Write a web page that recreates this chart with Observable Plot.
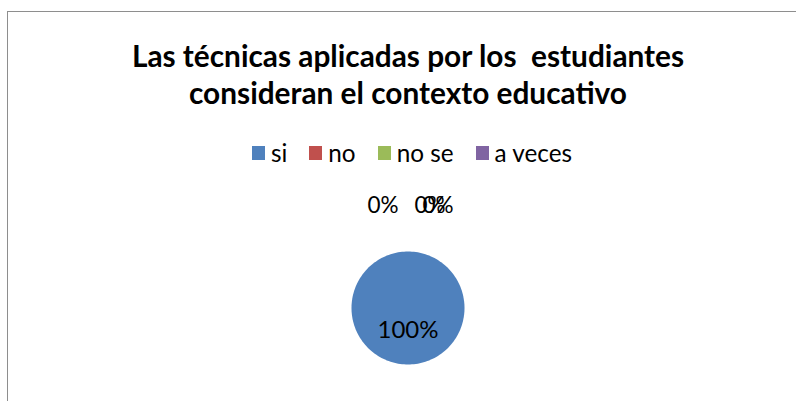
<!DOCTYPE html>
<html>
<head>
<meta charset="utf-8">
<script src="https://cdn.jsdelivr.net/npm/d3@7"></script>
<script src="https://cdn.jsdelivr.net/npm/@observablehq/plot@0.6"></script>
<style>
  html, body { margin: 0; padding: 0; background: #fff; }
  body { width: 796px; height: 401px; overflow: hidden; position: relative; font-family: Lato, "Open Sans", sans-serif; }
  #frame { position: absolute; left: 7px; top: 11px; width: 900px; height: 500px; border: 1.5px solid #8e8e8e; }
  #title { position: absolute; left: 0; width: 816px; top: 37px; text-align: center; font-weight: bold; font-size: 29.8px; line-height: 37px; color: #000; white-space: pre; }
  #legend { position: absolute; left: 0; width: 824px; top: 139px; display: flex; justify-content: center; font-size: 24.3px; line-height: 28px; color: #000; }
  .item { display: flex; align-items: center; margin: 0 11px; }
  .sw { width: 13px; height: 14px; margin-right: 6px; }
  #chart { position: absolute; left: 0; top: 170px; }
</style>
</head>
<body>
<div id="frame"></div>
<div id="title"></div>
<div id="legend"></div>
<div id="chart"></div>
<script>
const titleLines = ["Las técnicas aplicadas por los  estudiantes", "consideran el contexto educativo"];
const categories = ["si", "no", "no se", "a veces"];
const values = [100, 0, 0, 0];
const colors = ["#4F81BD", "#C0504D", "#9BBB59", "#8064A2"];
const labelNudge = [0, -25, 22, 30]; // px offsets Excel used to avoid overlap

document.getElementById("title").textContent = titleLines.join("\n");

const legend = document.getElementById("legend");
categories.forEach((c, i) => {
  const it = document.createElement("div");
  it.className = "item";
  const sw = document.createElement("span");
  sw.className = "sw";
  sw.style.background = colors[i];
  const t = document.createElement("span");
  t.textContent = c;
  it.append(sw, t);
  legend.append(it);
});

const total = d3.sum(values);
const arcs = d3.pie().sort(null).value(d => d.value)(categories.map((c, i) => ({cat: c, value: values[i], i})));

// polygon points for each slice (unit radius)
const pts = [];
arcs.forEach(a => {
  if (a.endAngle - a.startAngle <= 0) return;
  const n = 180;
  const full = (a.endAngle - a.startAngle) >= 2 * Math.PI - 1e-9;
  if (!full) pts.push({cat: a.data.cat, x: 0, y: 0});
  for (let k = 0; k <= n; k++) {
    const t = a.startAngle + (a.endAngle - a.startAngle) * k / n;
    pts.push({cat: a.data.cat, x: Math.sin(t), y: Math.cos(t)});
  }
});

const labels = arcs.map(a => {
  const mid = (a.startAngle + a.endAngle) / 2;
  const inside = a.data.value > 0;
  const rr = inside ? 0.4 : 1.81;
  return {cat: a.data.cat, i: a.data.i, x: rr * Math.sin(mid), y: rr * Math.cos(mid),
          text: Math.round(a.data.value / total * 100) + "%", inside};
});

const cx = 407.5, cy = 307.5 - 170, R = 56.5;
const plot = Plot.plot({
  width: 796,
  height: 231,
  margin: 0,
  x: {domain: [-1, 1], range: [cx - R, cx + R], axis: null},
  y: {domain: [-1, 1], range: [cy + R, cy - R], axis: null},
  color: {domain: categories, range: colors},
  style: {fontFamily: "Lato, 'Open Sans', sans-serif", background: "transparent"},
  marks: [
    Plot.line(pts, {x: "x", y: "y", z: "cat", fill: "cat", stroke: null, curve: "linear-closed"}),
    Plot.text(labels.filter(d => d.inside), {x: "x", y: "y", text: "text", fontSize: 24, fill: "#000"}),
    Plot.text(labels.filter(d => !d.inside), {x: d => d.x + labelNudge[d.i] / R, y: "y", text: "text", fontSize: 22.5, fill: "#000"})
  ]
});
document.getElementById("chart").append(plot);
</script>
</body>
</html>
